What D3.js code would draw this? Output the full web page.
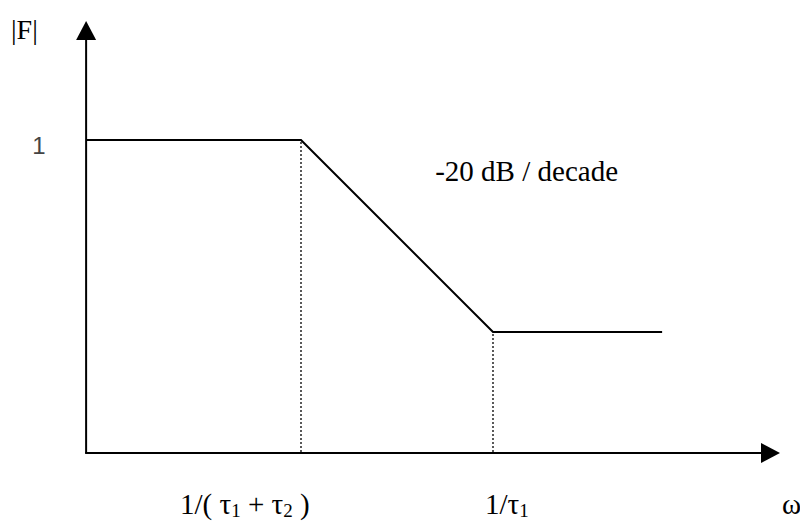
<!DOCTYPE html>
<html>
<head>
<meta charset="utf-8">
<script src="https://cdn.jsdelivr.net/npm/d3@7"></script>
<style>
  body { margin: 0; background: #fff; }
</style>
</head>
<body>
<svg id="chart" width="800" height="521"></svg>
<script>
// Asymptotic magnitude response |F(jω)| of a lag-lead loop filter.
// ω is normalised so that 1 = 1/(τ1+τ2); the second corner sits one decade higher.
const omega = [0.076, 1, 10, 76];
const magnitude = [1, 1, 0.1, 0.1];

// Corner frequencies and their labels (text runs, subscript flag)
const cornerOmega = [1, 10];
const cornerMagnitude = [1, 0.1];
const cornerLabels = [
  [["1/( τ", false], ["1", true], [" + τ", false], ["2", true], [" )", false]],
  [["1/τ", false], ["1", true]]
];

const yTickValues = [1];
const yTickLabels = ["1"];
const yAxisTitle = "|F|";
const xAxisTitle = "ω";
const slopeLabel = "-20 dB / decade";

const SERIF = "'Liberation Serif', 'Times New Roman', Times, 'DejaVu Serif', serif";
const SANS = "'Liberation Sans', Arial, sans-serif";
const FS = 29;   // body text size
const FS_SUB = 19;

const svg = d3.select("#chart");

// one decade spans the same distance on both axes
const x = d3.scaleLog().domain([1, 10]).range([301, 493]);
const y = d3.scaleLog().domain([0.1, 1]).range([332, 140]);

const originX = x(omega[0]);
const originY = 453;
const yTop = 21;
const xRight = 780;
const head = 19, halfHead = 10;

// axes with filled arrow heads
svg.append("line")
  .attr("x1", originX).attr("y1", originY)
  .attr("x2", originX).attr("y2", yTop + head)
  .attr("stroke", "#000").attr("stroke-width", 2);
svg.append("path")
  .attr("d", `M${originX},${yTop} L${originX - halfHead},${yTop + head} L${originX + halfHead},${yTop + head} Z`)
  .attr("fill", "#000");

svg.append("line")
  .attr("x1", originX - 1).attr("y1", originY)
  .attr("x2", xRight - head).attr("y2", originY)
  .attr("stroke", "#000").attr("stroke-width", 2);
svg.append("path")
  .attr("d", `M${xRight},${originY} L${xRight - head},${originY - halfHead} L${xRight - head},${originY + halfHead} Z`)
  .attr("fill", "#000");

// dotted drop lines at the corner frequencies
svg.selectAll("line.corner")
  .data(cornerOmega)
  .join("line")
  .attr("class", "corner")
  .attr("x1", d => x(d)).attr("x2", d => x(d))
  .attr("y1", (d, i) => y(cornerMagnitude[i]) + 2)
  .attr("y2", originY - 1)
  .attr("stroke", "#000")
  .attr("stroke-width", 1.3)
  .attr("stroke-dasharray", "2,2");

// asymptotic response
const line = d3.line()
  .x((d, i) => x(omega[i]))
  .y(d => y(d));
svg.append("path")
  .datum(magnitude)
  .attr("d", line)
  .attr("fill", "none")
  .attr("stroke", "#000")
  .attr("stroke-width", 2)
  .attr("stroke-linejoin", "miter");

// y tick label
svg.selectAll("text.ytick")
  .data(yTickValues)
  .join("text")
  .attr("class", "ytick")
  .attr("x", 39)
  .attr("y", d => y(d) + 14)
  .attr("text-anchor", "middle")
  .attr("font-family", SANS)
  .attr("font-size", 24)
  .attr("fill", "#444")
  .text((d, i) => yTickLabels[i]);

// axis titles
svg.append("text")
  .attr("x", 11).attr("y", 39)
  .attr("font-family", SERIF)
  .attr("font-size", 28)
  .text(yAxisTitle);

svg.append("text")
  .attr("x", 782).attr("y", 514)
  .attr("font-family", SERIF)
  .attr("font-size", FS)
  .text(xAxisTitle);

// corner frequency labels with subscripts
const labelX = [180, 485];
cornerLabels.forEach((runs, i) => {
  const t = svg.append("text")
    .attr("x", labelX[i]).attr("y", 514)
    .attr("font-family", SERIF)
    .attr("font-size", FS)
    .attr("xml:space", "preserve");
  let shifted = false;
  runs.forEach(([s, sub]) => {
    const dy = sub ? (shifted ? 0 : 3) : (shifted ? -3 : 0);
    shifted = sub;
    t.append("tspan")
      .attr("dy", dy)
      .attr("font-size", sub ? FS_SUB : FS)
      .text(s);
  });
});

// slope annotation
svg.append("text")
  .attr("x", 618).attr("y", 181)
  .attr("text-anchor", "end")
  .attr("font-family", SERIF)
  .attr("font-size", FS)
  .text(slopeLabel);
</script>
</body>
</html>
